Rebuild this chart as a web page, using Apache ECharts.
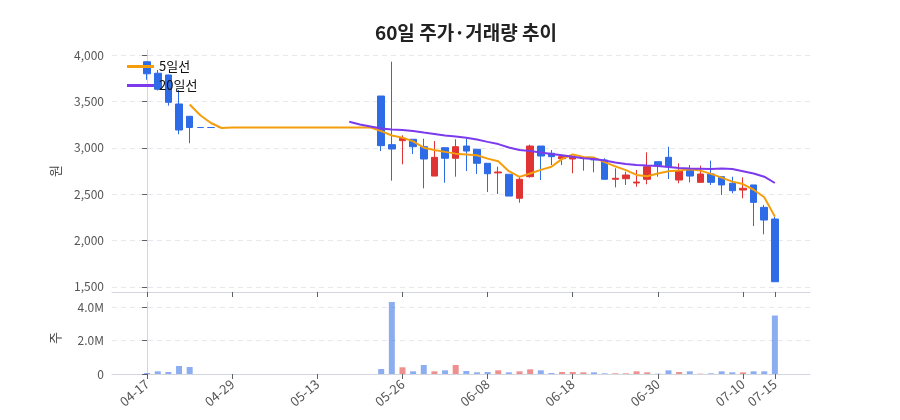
<!DOCTYPE html>
<html>
<head>
<meta charset="utf-8">
<script src="https://cdn.jsdelivr.net/npm/echarts@6/dist/echarts.min.js"></script>
<style>
    html, body { margin: 0; padding: 0; background: #fff; }
    #chart { width: 900px; height: 420px; }
</style>
</head>
<body>
<div id="chart"></div>
<script>
var dateList = ['04-17','04-18','04-21','04-22','04-23','04-24','04-25','04-28','04-29','04-30',
    '05-01','05-02','05-07','05-08','05-09','05-12','05-13','05-14','05-15','05-16',
    '05-19','05-20','05-21','05-22','05-26','05-27','05-28','05-29','05-30','06-02',
    '06-04','06-05','06-08','06-09','06-10','06-11','06-12','06-13','06-16','06-17',
    '06-18','06-19','06-20','06-23','06-24','06-25','06-26','06-27','06-30','07-01',
    '07-02','07-03','07-04','07-07','07-08','07-09','07-10','07-11','07-14','07-15'];
var labelIndexes = [0, 8, 16, 24, 32, 40, 48, 56, 59];

var openList  = [3930,3806,3787,3474,3341,3220,3220,3220,3220,3220,3220,3220,3220,3220,3220,3220,3220,3220,3220,3220,
    3220,3220,3560,3035,3078,3093,3013,2696,3002,2888,3020,2985,2834,2730,2715,2456,2689,3020,2942,2883,
    2880,2885,2880,2869,2661,2667,2621,2661,2851,2898,2653,2769,2628,2718,2689,2618,2545,2600,2358,2232];
var closeList = [3800,3633,3492,3193,3220,3220,3220,3220,3220,3220,3220,3220,3220,3220,3220,3220,3220,3220,3220,3220,
    3220,3220,3024,2988,3104,3013,2880,2898,2888,3013,2966,2834,2721,2740,2480,2661,3020,2912,2905,2905,
    2900,2893,2870,2661,2672,2707,2631,2797,2808,2797,2754,2696,2718,2628,2600,2538,2564,2412,2221,1555];
var lowList   = [3735,3620,3456,3147,3050,3220,3220,3220,3220,3220,3220,3220,3220,3220,3220,3220,3220,3220,3220,3220,
    3220,3220,2966,2646,2823,2934,2563,2696,2624,2689,2750,2718,2524,2502,2480,2408,2680,2653,2815,2815,
    2726,2754,2736,2661,2574,2600,2581,2607,2689,2664,2618,2628,2628,2600,2491,2510,2456,2156,2067,1555];
var highList  = [3935,3841,3790,3625,3341,3220,3220,3220,3220,3220,3220,3220,3220,3220,3220,3220,3220,3220,3220,3220,
    3220,3220,3560,3931,3136,3093,3099,3074,3002,3093,3099,2985,2834,2797,2715,2689,3035,3020,2977,2912,
    2905,2905,2898,2888,2780,2743,2761,2952,2851,3013,2834,2815,2808,2862,2689,2689,2682,2600,2383,2257];
var volumeList = [60000,160000,120000,480000,420000,0,0,0,0,0,0,0,0,0,0,0,0,0,0,0,
    0,0,300000,4310000,400000,160000,540000,160000,220000,540000,180000,100000,120000,220000,100000,160000,280000,220000,60000,120000,
    120000,100000,100000,40000,40000,40000,160000,100000,20000,220000,120000,160000,20000,40000,160000,100000,100000,160000,160000,3500000];
var ma5List = [null,null,null,null,3468,3352,3269,3215,3220,3220,3220,3220,3220,3220,3220,3220,3220,3220,3220,3220,
    3220,3220,3181,3134,3111,3070,3002,2977,2957,2938,2929,2920,2884,2855,2748,2687,2724,2763,2796,2881,
    2929,2903,2895,2846,2800,2760,2708,2694,2723,2748,2757,2770,2755,2719,2679,2636,2610,2548,2467,2258];
var ma20List = [null,null,null,null,null,null,null,null,null,null,null,null,null,null,null,null,null,null,null,3282,
    3253,3232,3209,3199,3193,3182,3165,3149,3133,3122,3110,3090,3065,3041,3004,2977,2967,2951,2935,2920,
    2904,2887,2880,2863,2842,2826,2814,2809,2805,2794,2784,2777,2776,2771,2777,2771,2748,2723,2689,2621];

var upColor = '#e03434';
var downColor = '#2e6be6';
var fontFamily = 'Noto Sans CJK KR';

/**
 * 캔들/거래량/이평선 데이터 만들기
 */
function buildSeriesData () {
    var candles = [], volumes = [], ma5 = [], ma20 = [];
    for (var i = 0, len = dateList.length; i < len; i++) {
        candles.push([i, openList[i], closeList[i], lowList[i], highList[i]]);
        var up = closeList[i] > openList[i];
        volumes.push({
            value: [i, volumeList[i]],
            itemStyle: { color: up ? 'rgba(224,52,52,0.55)' : 'rgba(46,107,230,0.55)' }
        });
        ma5.push([i, ma5List[i]]);
        ma20.push([i, ma20List[i]]);
    }
    return { candles: candles, volumes: volumes, ma5: ma5, ma20: ma20 };
}

function volumeFormatter (value) {
    if (value == 0) {
        return '0';
    }
    return (value / 1000000).toFixed(1) + 'M';
}

function priceChart (target) {
    var chart = echarts.init(document.getElementById(target));
    var d = buildSeriesData();
    var xCommon = {
        type : 'value',
        min : -3.3,
        max : 62.3,
        axisLine : { lineStyle : { color : '#d3d6de' } },
        axisTick : {
            show : true,
            length : 5,
            customValues : labelIndexes,
            lineStyle : { color : '#5a5f6a' }
        },
        splitLine : { show : false }
    };
    var option = {
        animation : false,
        textStyle : { fontFamily : fontFamily },
        title : {
            text : '60일 주가·거래량 추이',
            left : 461,
            textAlign : 'center',
            top : 18,
            textStyle : {
                fontFamily : fontFamily,
                fontSize : 19,
                fontWeight : 'bold',
                color : '#222'
            }
        },
        legend : {
            orient : 'vertical',
            left : 122,
            top : 55,
            icon : 'rect',
            itemWidth : 27,
            itemHeight : 3,
            itemGap : 6,
            data : ['5일선', '20일선'],
            textStyle : { fontSize : 13, color : '#111' }
        },
        grid : [
            { left : 112, right : 90, top : 50, height : 242 },
            { left : 112, right : 90, top : 302, height : 72 }
        ],
        xAxis : [
            echarts.util.merge({
                gridIndex : 0,
                axisLabel : { show : false }
            }, xCommon, true),
            echarts.util.merge({
                gridIndex : 1,
                axisLabel : {
                    show : true,
                    customValues : labelIndexes,
                    rotate : 40,
                    margin : 8,
                    fontSize : 13,
                    color : '#555',
                    formatter : function (v) { return dateList[Math.round(v)]; }
                }
            }, xCommon, true)
        ],
        yAxis : [
            {
                type : 'value',
                gridIndex : 0,
                min : 1444,
                max : 4057,
                name : '원',
                nameLocation : 'middle',
                nameGap : 50,
                nameTextStyle : { fontSize : 13, color : '#444' },
                axisLine : { show : true, lineStyle : { color : '#d3d6de' } },
                axisTick : {
                    show : true,
                    length : 5,
                    customValues : [1500, 2000, 2500, 3000, 3500, 4000],
                    lineStyle : { color : '#5a5f6a' }
                },
                axisLabel : {
                    customValues : [1500, 2000, 2500, 3000, 3500, 4000],
                    fontSize : 12,
                    color : '#555',
                    formatter : function (v) { return v.toLocaleString('en-US'); }
                },
                splitLine : { show : true, lineStyle : { color : '#e6e8ec', type : [5, 4] } }
            },
            {
                type : 'value',
                gridIndex : 1,
                min : 0,
                max : 4310000,
                name : '주',
                nameLocation : 'middle',
                nameGap : 50,
                nameTextStyle : { fontSize : 13, color : '#444' },
                axisLine : { show : true, lineStyle : { color : '#d3d6de' } },
                axisTick : {
                    show : true,
                    length : 5,
                    customValues : [0, 2000000, 4000000],
                    lineStyle : { color : '#5a5f6a' }
                },
                axisLabel : {
                    customValues : [0, 2000000, 4000000],
                    fontSize : 12,
                    color : '#555',
                    formatter : volumeFormatter
                },
                splitLine : { show : true, lineStyle : { color : '#e6e8ec', type : [5, 4] } }
            }
        ],
        series : [
            {
                name : '주가',
                type : 'candlestick',
                xAxisIndex : 0,
                yAxisIndex : 0,
                barWidth : 7,
                encode : { x : 0, y : [1, 2, 3, 4] },
                data : d.candles,
                itemStyle : {
                    color : upColor,
                    color0 : downColor,
                    borderColor : upColor,
                    borderColor0 : downColor,
                    borderColorDoji : downColor,
                    borderWidth : 1
                }
            },
            {
                name : '5일선',
                type : 'line',
                xAxisIndex : 0,
                yAxisIndex : 0,
                data : d.ma5,
                symbol : 'none',
                showSymbol : false,
                lineStyle : { width : 2, color : '#f59e0b' },
                itemStyle : { color : '#f59e0b' }
            },
            {
                name : '20일선',
                type : 'line',
                xAxisIndex : 0,
                yAxisIndex : 0,
                data : d.ma20,
                symbol : 'none',
                showSymbol : false,
                lineStyle : { width : 2, color : '#7c3aed' },
                itemStyle : { color : '#7c3aed' }
            },
            {
                name : '거래량',
                type : 'bar',
                xAxisIndex : 1,
                yAxisIndex : 1,
                barWidth : 6,
                data : d.volumes
            }
        ]
    };
    chart.setOption(option);
}

priceChart('chart');
</script>
</body>
</html>
